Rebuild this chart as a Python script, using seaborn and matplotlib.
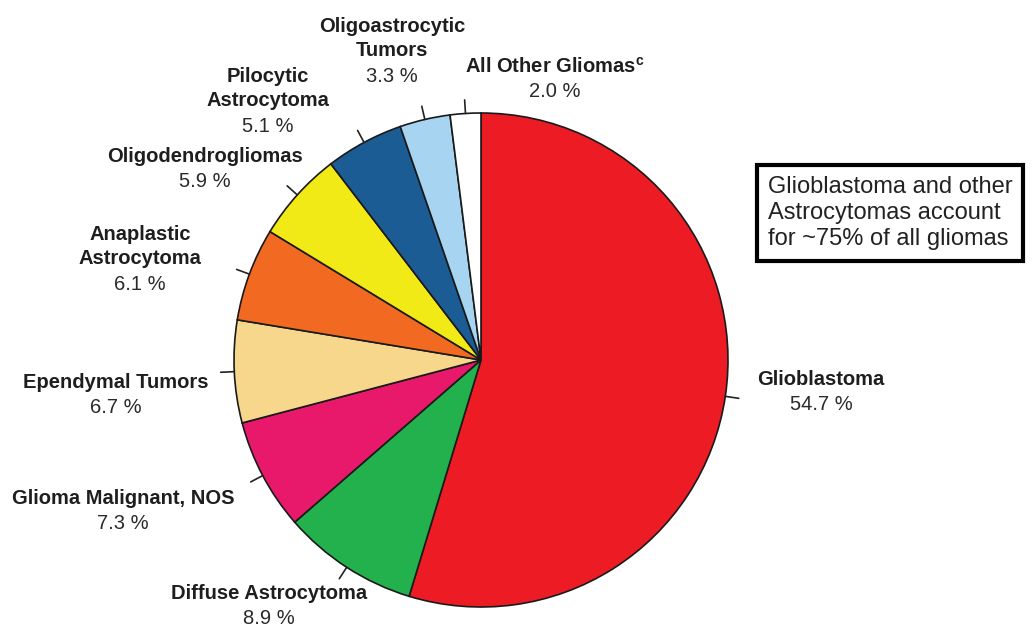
import numpy as np
import matplotlib
matplotlib.use('Agg')
import matplotlib.pyplot as plt
import seaborn as sns

sns.set_style('white')
plt.rcParams['font.family'] = ['Liberation Sans', 'DejaVu Sans']
plt.rcParams['mathtext.fontset'] = 'custom'
plt.rcParams['mathtext.bf'] = 'Liberation Sans:bold'
plt.rcParams['mathtext.rm'] = 'Liberation Sans'

# data (clockwise from 12 o'clock)
names = ['Glioblastoma', 'Diffuse Astrocytoma', 'Glioma Malignant, NOS',
         'Ependymal Tumors', 'Anaplastic\nAstrocytoma', 'Oligodendrogliomas',
         'Pilocytic\nAstrocytoma', 'Oligoastrocytic\nTumors',
         r'All Other Gliomas$^{\mathbf{c}}$']
pcts = [54.7, 8.9, 7.3, 6.7, 6.1, 5.9, 5.1, 3.3, 2.0]
colors = ['#ed1c24', '#22b14c', '#e8196b', '#f6d78b', '#f26a21',
          '#f2ea17', '#1b5c95', '#a7d5f1', '#ffffff']

# label block centres in pixels (layout only)
label_px = [(821, 392), (269, 606), (123, 511), (116, 395), (140, 259),
            (205, 169), (268, 101), (392, 51), (555, 79)]

W, H = 1036, 628
cx, cy, R = 481, 360, 247

fig = plt.figure(figsize=(W / 100, H / 100), dpi=100)
ax = fig.add_axes([0, 0, 1, 1])

wedges, _ = ax.pie(pcts, colors=colors, startangle=90, counterclock=False,
                   radius=1, wedgeprops=dict(edgecolor='#1a1a1a', linewidth=1.2))
ax.set_xlim(-cx / R, (W - cx) / R)
ax.set_ylim((cy - H) / R, cy / R)
ax.axis('off')

for w, name, p, (px, py) in zip(wedges, names, pcts, label_px):
    mid = np.deg2rad((w.theta1 + w.theta2) / 2)
    ax.plot([np.cos(mid) * 1.0, np.cos(mid) * 1.055],
            [np.sin(mid) * 1.0, np.sin(mid) * 1.055], color='#222222', lw=1.2)
    n_lines = name.count('\n') + 2
    lh = 25 / R
    top = (cy - py) / R + (n_lines - 1) * lh / 2
    for i, line in enumerate(name.split('\n')):
        ax.text((px - cx) / R, top - i * lh, line, ha='center', va='center',
                fontsize=14.5, fontweight='bold', color='#1e1e1e')
    ax.text((px - cx) / R, top - (n_lines - 1) * lh, f'{p:.1f} %',
            ha='center', va='center', fontsize=14.5, color='#2a2a2a')

ax.text((768 - cx) / R, (cy - 213) / R,
        'Glioblastoma and other\nAstrocytomas account\nfor ~75% of all gliomas',
        ha='left', va='center', fontsize=17, color='#222222', linespacing=1.25,
        bbox=dict(boxstyle='square,pad=0.45', facecolor='white',
                  edgecolor='black', linewidth=3))

fig.savefig('out.png', dpi=100, facecolor='white')
